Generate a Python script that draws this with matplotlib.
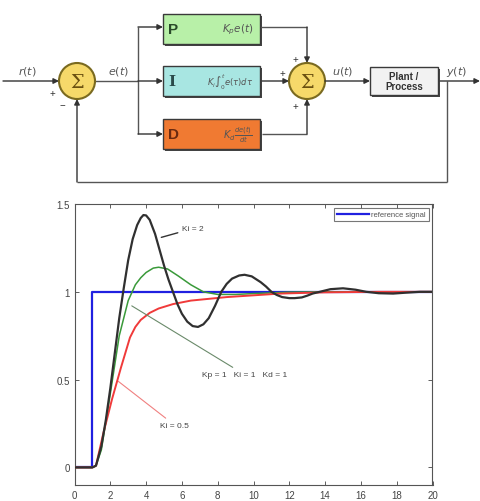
import matplotlib
matplotlib.use("Agg")
import matplotlib.pyplot as plt
from matplotlib.patches import Circle, Rectangle

plt.rcParams['font.family'] = ['Liberation Sans', 'DejaVu Sans']

# ---------------- data ----------------
ref_t = [0, 1, 1, 20]
ref_v = [0, 0, 1, 1]

ki2_t = [0, 1.0, 1.2, 1.5, 1.75, 2.0, 2.25, 2.5, 2.75, 3.0, 3.25, 3.5, 3.7, 3.85, 4.0, 4.2, 4.5, 4.75, 5.0, 5.25,
         5.5, 5.75, 6.0, 6.3, 6.6, 6.9, 7.2, 7.5, 7.85, 8.2, 8.5, 8.8, 9.2, 9.5, 9.9, 10.4, 10.7, 11.0, 11.3, 11.6,
         12.0, 12.3, 12.7, 13.0, 13.3, 13.7, 14.3, 15.0, 15.7, 16.3, 17.0, 17.8, 18.5, 19.3, 20.0]
ki2_v = [0, 0, 0.01, 0.12, 0.27, 0.45, 0.65, 0.85, 1.02, 1.18, 1.30, 1.38, 1.42, 1.437, 1.435, 1.41, 1.33, 1.24,
         1.15, 1.07, 1.0, 0.93, 0.875, 0.83, 0.805, 0.80, 0.815, 0.85, 0.92, 1.0, 1.045, 1.075, 1.093, 1.097, 1.088,
         1.055, 1.03, 1.0, 0.982, 0.97, 0.964, 0.964, 0.968, 0.978, 0.99, 1.0, 1.015, 1.02, 1.012, 1.0, 0.992,
         0.99, 0.995, 1.0, 1.0]

ki1_t = [0, 1.0, 1.2, 1.5, 2.0, 2.5, 3.0, 3.4, 3.7, 4.0, 4.4, 4.7, 5.2, 5.8, 6.5, 7.2, 8.0, 9.0, 10.0, 12.0, 14.0,
         20.0]
ki1_v = [0, 0, 0.01, 0.10, 0.42, 0.75, 0.95, 1.04, 1.08, 1.11, 1.135, 1.14, 1.13, 1.09, 1.04, 1.0, 0.985, 0.985,
         0.99, 0.998, 1.0, 1.0]

ki05_t = [0, 1.0, 1.2, 1.6, 2.1, 2.6, 3.1, 3.4, 3.7, 4.2, 4.7, 5.5, 6.5, 7.5, 8.5, 10.0, 11.5, 14.0, 17.0, 20.0]
ki05_v = [0, 0, 0.01, 0.19, 0.39, 0.57, 0.74, 0.80, 0.84, 0.88, 0.905, 0.93, 0.95, 0.96, 0.97, 0.98, 0.99, 0.997,
          1.0, 1.0]

x_ticks = list(range(0, 21, 2))
y_ticks = [0, 0.5, 1, 1.5]
y_tick_labels = ["0", "0.5", "1", "1.5"]

W, H = 481, 502
fig = plt.figure(figsize=(W / 100, H / 100), dpi=100)

# ---------------- block diagram (pixel coordinates) ----------------
d = fig.add_axes([0, 0, 1, 1])
d.set_xlim(0, W)
d.set_ylim(H, 0)
d.axis("off")

lc = "#555555"

def line(xs, ys):
    d.plot(xs, ys, color=lc, lw=1.0, solid_capstyle="butt")

def arrow(x0, y0, x1, y1):
    d.annotate("", xy=(x1, y1), xytext=(x0, y0),
               arrowprops=dict(arrowstyle="-|>", color="#333333", lw=1.0,
                               mutation_scale=8, shrinkA=0, shrinkB=0))

def block(x0, y0, x1, y1, fc):
    d.add_patch(Rectangle((x0 + 2, y0 + 2), x1 - x0, y1 - y0, fc="#444444", ec="none", zorder=2))
    d.add_patch(Rectangle((x0, y0), x1 - x0, y1 - y0, fc=fc, ec="#3a3a3a", lw=1.0, zorder=3))

def summer(cx, cy):
    d.add_patch(Circle((cx, cy), 18, fc="#f6d96a", ec="#7a6a20", lw=1.5, zorder=3))
    d.text(cx, cy + 1, "Σ", ha="center", va="center", fontsize=14, color="#6a5010", zorder=4,
           family="DejaVu Serif")

def lab(x, y, s):
    d.text(x, y, s, ha="center", va="center", fontsize=8, color="#555555",
           family="DejaVu Serif", style="italic")

# input and first summer
arrow(3, 82, 59, 82)
lab(27, 72, r"$r(t)$")
summer(77, 82)
d.text(52, 94, "+", fontsize=7, ha="center", va="center", color="#333")
d.text(62, 106, "−", fontsize=7, ha="center", va="center", color="#333")
lab(118, 72, r"$e(t)$")

# branches
line([95, 138], [82, 82])
line([138, 138], [28, 135])
arrow(138, 28, 163, 28)
arrow(138, 82, 163, 82)
arrow(138, 135, 163, 135)

block(163, 15, 260, 45, "#b8f0a8")
block(163, 67, 260, 97, "#a8e6e2")
block(163, 120, 260, 150, "#f07a32")

d.text(168, 30, "P", fontsize=11, fontweight="bold", color="#2a4a2a", va="center", zorder=5)
d.text(253, 30, r"$K_p e(t)$", fontsize=7.5, color="#555555", va="center", ha="right", zorder=5)
d.text(168, 82, "I", fontsize=11, fontweight="bold", color="#2a4a4a", va="center", zorder=5, family="DejaVu Serif")
d.text(253, 82, r"$K_i\int_0^t e(\tau)d\tau$", fontsize=6, color="#555555", va="center", ha="right", zorder=5)
d.text(168, 135, "D", fontsize=11, fontweight="bold", color="#6a2a10", va="center", zorder=5)
d.text(253, 135, r"$K_d\frac{de(t)}{dt}$", fontsize=7, color="#555555", va="center", ha="right", zorder=5)

# to second summer
line([260, 307], [28, 28])
arrow(307, 28, 307, 64)
arrow(262, 82, 289, 82)
line([262, 307], [135, 135])
arrow(307, 135, 307, 100)
summer(307, 82)
d.text(295, 60, "+", fontsize=7, ha="center", va="center", color="#333")
d.text(282, 74, "+", fontsize=7, ha="center", va="center", color="#333")
d.text(295, 107, "+", fontsize=7, ha="center", va="center", color="#333")

lab(343, 72, r"$u(t)$")
arrow(325, 82, 370, 82)
block(370, 68, 438, 96, "#f2f2f2")
d.text(404, 82, "Plant /\nProcess", fontsize=7, fontweight="bold", color="#333333",
       ha="center", va="center", zorder=5, linespacing=0.95)
lab(457, 72, r"$y(t)$")
arrow(440, 82, 480, 82)

# feedback
line([447, 447], [82, 183])
line([447, 77], [183, 183])
arrow(77, 183, 77, 100)

# ---------------- step response plot ----------------
left, right, top, bottom = 74.5, 432.5, 205, 486
ax = fig.add_axes([left / W, 1 - bottom / H, (right - left) / W, (bottom - top) / H])
ax.plot(ref_t, ref_v, color="#2020e0", lw=1.6, label="reference signal", zorder=2)
ax.plot(ki2_t, ki2_v, color="#303030", lw=1.6, zorder=4)
ax.plot(ki1_t, ki1_v, color="#3a9a3a", lw=1.1, zorder=3)
ax.plot(ki05_t, ki05_v, color="#f03a3a", lw=1.4, zorder=3)

ax.set_xlim(0, 20)
ax.set_ylim(-0.1, 1.5)
ax.set_xticks(x_ticks)
ax.set_yticks(y_ticks)
ax.set_yticklabels(y_tick_labels)
ax.tick_params(direction="in", top=True, right=True, labelsize=7, colors="#444444", length=3, width=0.6)
for s in ax.spines.values():
    s.set_color("#555555")
    s.set_linewidth(0.8)

# annotations
ax.annotate("Ki = 2", xy=(4.85, 1.31), xytext=(6.0, 1.36), fontsize=6, color="#444444",
            va="center", arrowprops=dict(arrowstyle="-", color="#333333", lw=1.0, shrinkA=1, shrinkB=0))
ax.annotate("Kp = 1   Ki = 1   Kd = 1", xy=(3.2, 0.92), xytext=(7.1, 0.53), fontsize=6, color="#444444",
            va="center", arrowprops=dict(arrowstyle="-", color="#6a8a6a", lw=0.8, shrinkA=1, shrinkB=0))
ax.annotate("Ki = 0.5", xy=(2.45, 0.49), xytext=(4.8, 0.24), fontsize=6, color="#444444",
            va="center", arrowprops=dict(arrowstyle="-", color="#f08080", lw=0.8, shrinkA=1, shrinkB=0))

leg = ax.legend(loc="upper right", fontsize=5.5, frameon=True, fancybox=False, handlelength=4.2,
                borderpad=0.4, handletextpad=0.2, borderaxespad=0.5)
leg.get_frame().set_edgecolor("#555555")
leg.get_frame().set_linewidth(0.8)
for t in leg.get_texts():
    t.set_color("#555555")

fig.savefig("out.png", dpi=100)
